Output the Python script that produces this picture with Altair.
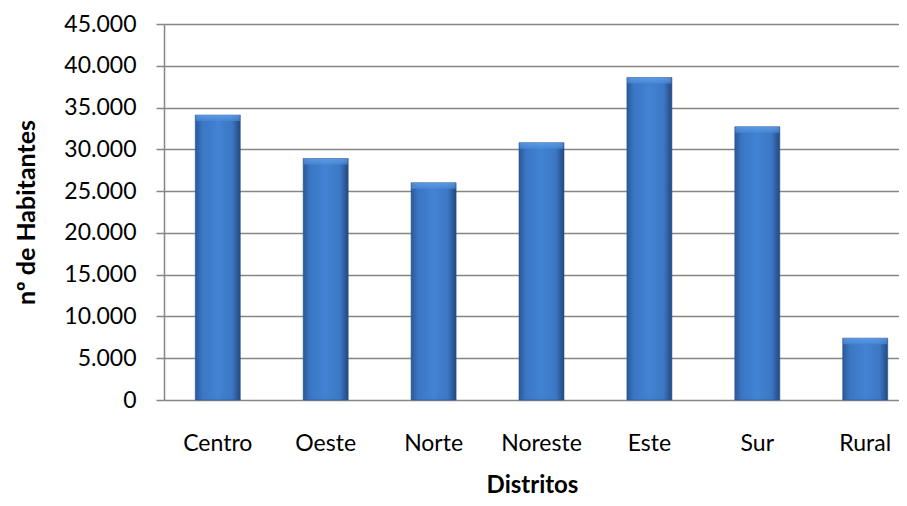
import altair as alt
import pandas as pd

distritos = ["Centro", "Oeste", "Norte", "Noreste", "Este", "Sur", "Rural"]
habitantes = [34100, 28900, 26000, 30800, 38600, 32700, 7400]
y_ticks = [0, 5000, 10000, 15000, 20000, 25000, 30000, 35000, 40000, 45000]

df = pd.DataFrame({"Distrito": distritos, "Habitantes": habitantes})

FONT = "Lato"

grad = alt.Gradient(
    gradient="linear", x1=0, x2=1, y1=0, y2=0,
    stops=[
        alt.GradientStop(color="#2a5898", offset=0),
        alt.GradientStop(color="#3a76c4", offset=0.15),
        alt.GradientStop(color="#4283d3", offset=0.5),
        alt.GradientStop(color="#3b77c3", offset=0.82),
        alt.GradientStop(color="#24487e", offset=1),
    ],
)

x_enc = alt.X(
    "Distrito:N", sort=distritos, title="Distritos",
    scale=alt.Scale(range=[0, 755], paddingInner=0.583, paddingOuter=0.29),
    axis=alt.Axis(labelAngle=0, ticks=False, domain=False, labelPadding=32,
                  labelFontSize=23, labelColor="#000",
                  titleFontSize=24, titleFontWeight="bold", titleColor="#000",
                  titleX=368, titleY=85, titleBaseline="middle", titleAlign="center"),
)
y_enc = alt.Y(
    "Habitantes:Q", title="nº de Habitantes",
    scale=alt.Scale(domain=[0, 45000], nice=False),
    axis=alt.Axis(values=y_ticks, labelExpr="replace(format(datum.value, ','), ',', '.')",
                  tickSize=8, tickColor="#868686", tickWidth=1.5,
                  domain=True, domainColor="#868686", domainWidth=1.5,
                  gridColor="#868686", gridWidth=1.5,
                  labelFontSize=23, labelPadding=20, labelColor="#000",
                  titleFontSize=25, titleFontWeight="bold", titleColor="#000",
                  titleX=-138, titleY=188, titleAngle=270,
                  titleBaseline="middle", titleAlign="center"),
)

bars = alt.Chart(df).mark_bar(color=grad, stroke="#2a5290", strokeWidth=0.6).encode(x=x_enc, y=y_enc)

bevel = alt.Chart(df).mark_tick(
    thickness=6, size=44, yOffset=3,
    color=alt.Gradient(
        gradient="linear", x1=0, x2=0, y1=0, y2=1,
        stops=[alt.GradientStop(color="#6aa6ee", offset=0),
               alt.GradientStop(color="#4a8ad8", offset=1)],
    ),
).encode(x=alt.X("Distrito:N", sort=distritos), y="Habitantes:Q")

chart = (
    alt.layer(bars, bevel)
    .properties(width=735, height=376,
                autosize=alt.AutoSizeParams(type="none"),
                padding={"left": 156, "top": 16, "right": 0, "bottom": 98})
    .configure(font=FONT)
    .configure_view(stroke=None)
)

chart.save("out.html", embed_options={"renderer": "svg", "actions": False})
